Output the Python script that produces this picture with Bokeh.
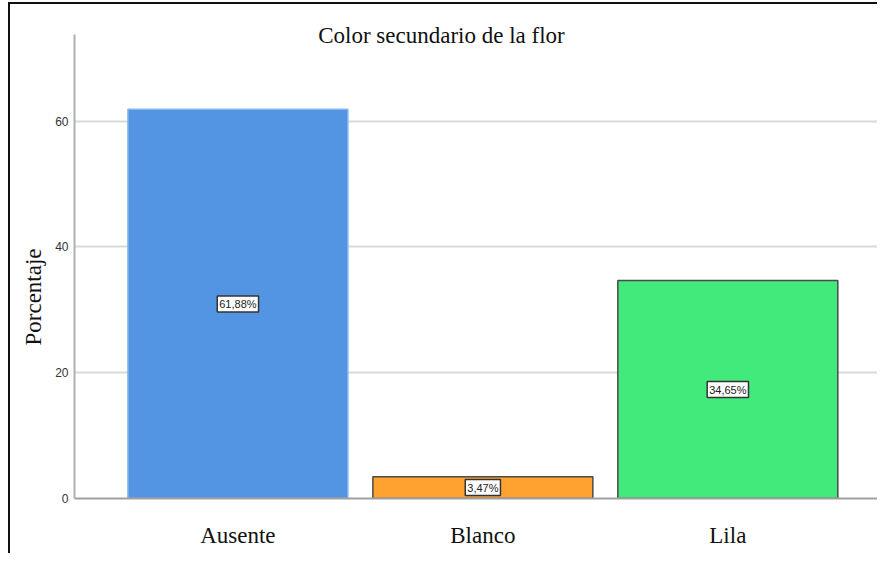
from bokeh.plotting import figure
from bokeh.models import ColumnDataSource, Label, Range1d, FixedTicker, Title
from bokeh.embed import file_html
from bokeh.resources import INLINE

categories = ["Ausente", "Blanco", "Lila"]
percentages = [61.88, 3.47, 34.65]
y_ticks = [0, 20, 40, 60]
title_text = "Color secundario de la flor"
y_label = "Porcentaje"

fill_colors = ["#5394e3", "#ffa22f", "#42e97b"]
line_colors = ["#86b6ee", "#4a4a4a", "#4a4a4a"]

positions = list(range(len(categories)))
labels_text = [f"{v:.2f}%".replace(".", ",") for v in percentages]

source = ColumnDataSource(dict(
    x=positions,
    top=percentages,
    fill=fill_colors,
    line=line_colors,
))

p = figure(width=877, height=553, output_backend="svg", toolbar_location=None,
           x_range=Range1d(-0.667, 2.611), y_range=Range1d(0, 78.86),
           min_border_left=74, min_border_right=0, min_border_top=2, min_border_bottom=55,
           background_fill_alpha=0, border_fill_alpha=0)
p.styles = {"box-shadow": "inset 8px 2px 0 0 #ffffff, inset 10px 4px 0 0 #111111"}
p.outline_line_color = None

p.vbar(x="x", top="top", width=0.898, bottom=0, source=source,
       fill_color="fill", line_color="line", line_width=1.5)

for xpos, val, txt in zip(positions, percentages, labels_text):
    p.add_layout(Label(x=xpos, y=val / 2, text=txt,
                       text_align="center", text_baseline="middle",
                       text_font="Liberation Sans", text_font_size="11px", text_color="#222222",
                       background_fill_color="white", border_line_color="#333333",
                       border_line_width=1.5, padding=2))

title = Label(x=0.831, y=73.6, text=title_text, text_align="center", text_baseline="middle",
              text_font="Liberation Serif", text_font_size="23px", text_color="#111111")
p.add_layout(title)

# y-axis title, placed from the bottom of the frame to match the reference
ytitle = Title(text=y_label, align="left", offset=153, standoff=14,
               text_font="Liberation Serif", text_font_size="23px",
               text_font_style="normal", text_color="#111111")
p.add_layout(ytitle, "left")

# x axis
p.xaxis.ticker = FixedTicker(ticks=positions)
p.xaxis.major_label_overrides = {i: c for i, c in zip(positions, categories)}
p.xaxis.major_label_text_font = "Liberation Serif"
p.xaxis.major_label_text_font_size = "23px"
p.xaxis.major_label_text_color = "#111111"
p.xaxis.major_label_standoff = 24
p.xaxis.major_tick_out = 0
p.xaxis.major_tick_in = 0
p.xaxis.major_tick_line_color = None
p.xaxis.minor_tick_line_color = None
p.xaxis.axis_line_color = "#a0a0a0"
p.xaxis.axis_line_width = 2

# y axis
p.yaxis.ticker = FixedTicker(ticks=y_ticks)
p.yaxis.bounds = (0, 73.7)
p.yaxis.major_label_text_font = "Liberation Sans"
p.yaxis.major_label_text_font_size = "12px"
p.yaxis.major_label_text_color = "#333333"
p.yaxis.major_label_standoff = 6
p.yaxis.major_tick_out = 0
p.yaxis.major_tick_in = 0
p.yaxis.major_tick_line_color = None
p.yaxis.minor_tick_line_color = None
p.yaxis.axis_line_color = "#b0b0b0"
p.yaxis.axis_line_width = 2

p.xgrid.grid_line_color = None
p.ygrid.grid_line_color = "#d9d9d9"
p.ygrid.grid_line_width = 2

open("out.html", "w").write(file_html(p, INLINE))
